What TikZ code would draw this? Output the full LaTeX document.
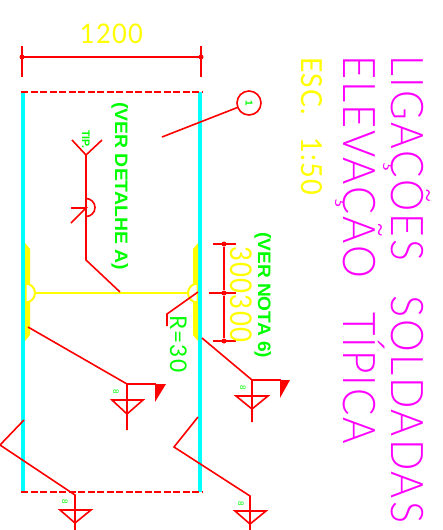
\documentclass[tikz,border=0pt]{standalone}
\usepackage{fontspec}
\setmainfont{Liberation Sans}
\newfontfamily\thinf[LetterSpace=5]{Lato Light}
\newfontfamily\midf[LetterSpace=5]{Lato}
\newfontfamily\boldf{Liberation Sans Bold}
\newcommand\tw[2]{\resizebox{#1pt}{\height}{#2}}
\definecolor{mag}{RGB}{255,0,255}
\definecolor{yel}{RGB}{255,255,0}
\definecolor{cya}{RGB}{0,255,255}
\definecolor{gre}{RGB}{0,255,0}
\definecolor{re}{RGB}{255,0,0}
\tikzset{
  rl/.style={draw=re,line width=1.6pt},
  dl/.style={draw=re,line width=1.6pt,dash pattern=on 7pt off 2.5pt},
  col/.style={draw=cya,line width=4.5pt},
  yl/.style={draw=yel,line width=2pt},
  dot/.style={circle,fill=re,inner sep=0pt,minimum size=5pt},
  rtxt/.style={rotate=-90,anchor=base west,inner sep=0pt},
  tiny8/.style={rotate=-90,inner sep=0pt,text=gre,font=\fontsize{8}{8}\selectfont},
}
\begin{document}
\begin{tikzpicture}[x=1pt,y=-1pt]
\useasboundingbox[fill=white] (0,0) rectangle (442,530);
% columns
\draw[col] (22.75,92) -- (22.75,492);
\draw[col] (200,92) -- (200,492);
\draw[dl] (21,92) -- (202,92);
\draw[dl] (21,492) -- (202,492);
% plates and beam
\fill[yel] (25,243) -- (30,249) -- (30,335) -- (25,341) -- cycle;
\fill[yel] (198,243) -- (193,249) -- (193,335) -- (198,341) -- cycle;
\draw[yl] (35,293) -- (188,293);
\draw[yl,fill=white] (25.5,283.5) arc[start angle=90,end angle=-90,radius=9.5pt] -- cycle;
\draw[yl,fill=white] (197.5,283.5) arc[start angle=90,end angle=270,radius=9.5pt] -- cycle;
\draw[col] (22.75,280) -- (22.75,306);
\draw[col] (200,280) -- (200,306);
% 1200 dimension
\coordinate (da) at (22,57); \coordinate (db) at (201,57);
\draw[rl] (da) -- (db);
\draw[rl] (22,46) -- (22,77);
\draw[rl] (201,46) -- (201,77);
\node[dot] (d1) at (da) {}; \node[dot] (d2) at (db) {};
\node[text=yel,inner sep=0pt,anchor=base] (t1200) at (111.5,43) {\midf\fontsize{27}{27}\selectfont\tw{63}{1200}};
% 300 300 dimension
\node[dot] (v1) at (224,244) {}; \node[dot] (v2) at (224,293) {}; \node[dot] (v3) at (224,341) {};
\draw[rl] (v1) -- (v2) -- (v3);
\draw[rl] (213,244) -- (236,244);
\draw[rl] (209,293) -- (236,293);
\draw[rl] (213,341) -- (236,341);
\node[rtxt,text=yel] (t300) at (230,246) {\midf\fontsize{30}{30}\selectfont\tw{96}{300300}};
% title
\node[rtxt,text=mag] (tt1) at (391,55) {\thinf\fontsize{45}{45}\selectfont\tw{206}{LIGAÇÕES}\hspace{34pt}\tw{228}{SOLDADAS}};
\node[rtxt,text=mag] (tt2) at (343,55) {\thinf\fontsize{45}{45}\selectfont\tw{223}{ELEVAÇÃO}\hspace{34pt}\tw{132}{TÍPICA}};
\node[rtxt,text=yel] (tt3) at (301,57) {\midf\fontsize{29}{29}\selectfont\tw{58}{ESC.}\hspace{22pt}\tw{58}{1:50}};
% notes
\node[rtxt,text=gre] (n1) at (115,102) {\boldf\fontsize{18}{18}\selectfont\tw{168}{(VER DETALHE A)}};
\node[rtxt,text=gre] (n2) at (258,232) {\boldf\fontsize{18}{18}\selectfont\tw{126}{(VER NOTA 6)}};
\node[rtxt,text=gre] (rt) at (170,315) {\midf\fontsize{23}{23}\selectfont\tw{57}{R=30}};
\node[rtxt,text=gre] (tip) at (82,130) {\boldf\fontsize{11}{11}\selectfont\tw{18}{TIP.}};
% callout
\node[circle,draw=re,line width=1.6pt,minimum size=24pt,inner sep=0pt,rotate=-90,font=\boldf\fontsize{10}{10}\selectfont] (c1) at (249,103) {\textcolor{gre}{1}};
\coordinate (c1e) at (162,137);
\draw[rl] (c1) -- (c1e);
% TIP symbol
\coordinate (ya) at (72,140); \coordinate (yb) at (102,140); \coordinate (yc) at (86,155);
\coordinate (ym) at (86,208); \coordinate (yd) at (86,260); \coordinate (ye) at (120,292);
\draw[rl] (ya) -- (yc) -- (yb);
\draw[rl] (yc) -- (yd) -- (ye);
\draw[rl] (86,198.5) arc[start angle=90,end angle=-90,radius=9pt];
\draw[rl] (71,208) -- (ym) -- (71,223);
% R=30 leader
\coordinate (ra) at (198,292); \coordinate (rb) at (167,314); \coordinate (rc) at (167,326);
\draw[rl] (ra) -- (rb) -- (rc);
% weld 1
\coordinate (wa) at (28,327); \coordinate (wb) at (127,384); \coordinate (wc) at (127,430);
\draw[rl] (wa) -- (wb) -- (wc);
\draw[rl] (wb) -- (156,384);
\fill[re] (155,384) -- (166,384) -- (155,402) -- cycle;
\draw[rl] (112,400) -- (143,400) -- (127,414) -- cycle;
\node[tiny8] (w8a) at (116,392) {8};
% weld 2
\coordinate (xa) at (202,338); \coordinate (xb) at (252,380); \coordinate (xc) at (252,422);
\draw[rl] (xa) -- (xb) -- (xc);
\draw[rl] (xb) -- (281,380);
\fill[re] (280,380) -- (290,380) -- (280,398) -- cycle;
\draw[rl] (236,396) -- (268,396) -- (252,409) -- cycle;
\node[tiny8] (w8b) at (243,388) {8};
% weld 3
\coordinate (ya3) at (24,420); \coordinate (yb3) at (0,445); \coordinate (yc3) at (75,495); \coordinate (yd3) at (75,530);
\draw[rl] (ya3) -- (yb3) -- (yc3) -- (yd3);
\draw[rl] (60,510) -- (91,510) -- (75,523) -- cycle;
\node[tiny8] (w8c) at (65,502) {8};
% weld 4
\coordinate (za) at (198,417); \coordinate (zb) at (174,447); \coordinate (zc) at (250,496); \coordinate (zd) at (250,530);
\draw[rl] (za) -- (zb) -- (zc) -- (zd);
\draw[rl] (235,511) -- (266,511) -- (250,524) -- cycle;
\node[tiny8] (w8d) at (241,504) {8};
\end{tikzpicture}
\end{document}
